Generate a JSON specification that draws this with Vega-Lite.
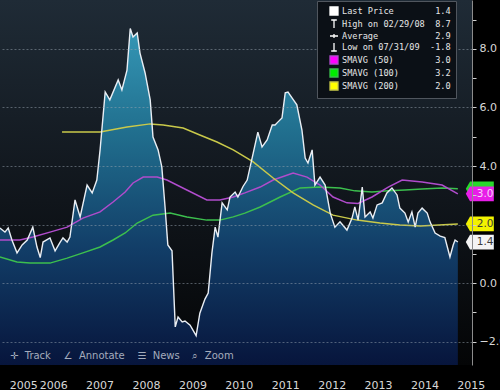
{
  "$schema": "https://vega.github.io/schema/vega-lite/v6.json",
  "width": 472,
  "height": 365,
  "autosize": "none",
  "padding": {"left": 0, "top": 0, "right": 28, "bottom": 25},
  "background": "#000000",
  "view": {
    "stroke": null,
    "fill": {"gradient": "linear", "x1": 0, "y1": 0, "x2": 0, "y2": 1,
      "stops": [{"offset": 0, "color": "#1f2b36"}, {"offset": 0.55, "color": "#10151b"}, {"offset": 1, "color": "#040506"}]}
  },
  "title": {
    "text": "✛\u00a0 Track\u00a0\u00a0\u00a0 ∠\u00a0 Annotate\u00a0\u00a0\u00a0 ☰\u00a0 News\u00a0\u00a0\u00a0 ⌕\u00a0 Zoom",
    "orient": "bottom", "anchor": "start", "frame": "group", "offset": -34, "baseline": "middle",
    "dx": 10, "color": "#a4acbc", "fontSize": 10, "fontWeight": "normal", "font": "DejaVu Sans", "zindex": 2
  },
  "datasets": {
    "price": [
      {"t": 2005.35, "v": 1.88}, {"t": 2005.46, "v": 1.74}, {"t": 2005.53, "v": 1.88}, {"t": 2005.61, "v": 1.47},
      {"t": 2005.72, "v": 1.03}, {"t": 2005.83, "v": 1.30}, {"t": 2005.94, "v": 1.47}, {"t": 2006.06, "v": 1.91},
      {"t": 2006.15, "v": 1.23}, {"t": 2006.22, "v": 0.87}, {"t": 2006.28, "v": 1.40}, {"t": 2006.43, "v": 1.54},
      {"t": 2006.54, "v": 1.10}, {"t": 2006.65, "v": 1.40}, {"t": 2006.71, "v": 1.54}, {"t": 2006.80, "v": 1.40},
      {"t": 2006.86, "v": 1.57}, {"t": 2006.97, "v": 2.84}, {"t": 2007.08, "v": 2.26}, {"t": 2007.23, "v": 3.35},
      {"t": 2007.34, "v": 3.08}, {"t": 2007.44, "v": 3.52}, {"t": 2007.51, "v": 4.55}, {"t": 2007.62, "v": 6.53},
      {"t": 2007.72, "v": 6.26}, {"t": 2007.90, "v": 6.94}, {"t": 2007.98, "v": 6.60}, {"t": 2008.09, "v": 7.28},
      {"t": 2008.16, "v": 8.70}, {"t": 2008.22, "v": 8.41}, {"t": 2008.31, "v": 8.55}, {"t": 2008.37, "v": 7.86},
      {"t": 2008.48, "v": 7.18}, {"t": 2008.59, "v": 6.26}, {"t": 2008.65, "v": 4.99}, {"t": 2008.76, "v": 4.55},
      {"t": 2008.84, "v": 3.97}, {"t": 2008.91, "v": 2.60}, {"t": 2008.97, "v": 1.30}, {"t": 2009.06, "v": 1.10},
      {"t": 2009.13, "v": -1.50}, {"t": 2009.19, "v": -1.16}, {"t": 2009.28, "v": -1.33}, {"t": 2009.34, "v": -1.30},
      {"t": 2009.45, "v": -1.44}, {"t": 2009.58, "v": -1.80}, {"t": 2009.66, "v": -1.03}, {"t": 2009.77, "v": -0.55},
      {"t": 2009.84, "v": -0.34}, {"t": 2009.92, "v": 1.03}, {"t": 2009.99, "v": 1.91}, {"t": 2010.05, "v": 1.57},
      {"t": 2010.14, "v": 2.74}, {"t": 2010.25, "v": 2.50}, {"t": 2010.31, "v": 2.94}, {"t": 2010.42, "v": 3.11},
      {"t": 2010.48, "v": 2.94}, {"t": 2010.59, "v": 3.30}, {"t": 2010.68, "v": 3.52}, {"t": 2010.81, "v": 4.44},
      {"t": 2010.91, "v": 5.16}, {"t": 2011.00, "v": 4.65}, {"t": 2011.11, "v": 4.89}, {"t": 2011.22, "v": 5.40},
      {"t": 2011.28, "v": 5.40}, {"t": 2011.34, "v": 5.50}, {"t": 2011.43, "v": 5.64}, {"t": 2011.50, "v": 6.50},
      {"t": 2011.56, "v": 6.53}, {"t": 2011.65, "v": 6.32}, {"t": 2011.75, "v": 6.09}, {"t": 2011.86, "v": 5.23},
      {"t": 2011.93, "v": 4.27}, {"t": 2011.99, "v": 4.10}, {"t": 2012.08, "v": 4.55}, {"t": 2012.14, "v": 3.35},
      {"t": 2012.25, "v": 3.62}, {"t": 2012.36, "v": 3.35}, {"t": 2012.47, "v": 2.39}, {"t": 2012.57, "v": 1.91},
      {"t": 2012.68, "v": 2.09}, {"t": 2012.83, "v": 1.81}, {"t": 2012.94, "v": 2.22}, {"t": 2013.00, "v": 2.60},
      {"t": 2013.07, "v": 2.15}, {"t": 2013.16, "v": 3.28}, {"t": 2013.22, "v": 2.26}, {"t": 2013.33, "v": 2.43},
      {"t": 2013.39, "v": 2.22}, {"t": 2013.48, "v": 2.67}, {"t": 2013.59, "v": 2.74}, {"t": 2013.69, "v": 3.08},
      {"t": 2013.80, "v": 3.25}, {"t": 2013.91, "v": 3.01}, {"t": 2013.97, "v": 2.56}, {"t": 2014.08, "v": 2.39},
      {"t": 2014.15, "v": 2.09}, {"t": 2014.23, "v": 2.43}, {"t": 2014.30, "v": 1.91}, {"t": 2014.36, "v": 2.39},
      {"t": 2014.45, "v": 2.56}, {"t": 2014.56, "v": 2.39}, {"t": 2014.62, "v": 2.09}, {"t": 2014.73, "v": 1.71},
      {"t": 2014.84, "v": 1.60}, {"t": 2014.94, "v": 1.55}, {"t": 2015.05, "v": 0.89}, {"t": 2015.12, "v": 1.30},
      {"t": 2015.16, "v": 1.47}, {"t": 2015.22, "v": 1.40}
    ],
    "ma": [
      {"s": "SMAVG (100)", "t": 2005.35, "v": 0.89}, {"s": "SMAVG (100)", "t": 2005.72, "v": 0.72}, {"s": "SMAVG (100)", "t": 2006.00, "v": 0.68},
      {"s": "SMAVG (100)", "t": 2006.43, "v": 0.68}, {"s": "SMAVG (100)", "t": 2006.80, "v": 0.85}, {"s": "SMAVG (100)", "t": 2007.14, "v": 1.03},
      {"s": "SMAVG (100)", "t": 2007.51, "v": 1.23}, {"s": "SMAVG (100)", "t": 2007.79, "v": 1.47}, {"s": "SMAVG (100)", "t": 2008.05, "v": 1.71},
      {"s": "SMAVG (100)", "t": 2008.31, "v": 2.05}, {"s": "SMAVG (100)", "t": 2008.65, "v": 2.32}, {"s": "SMAVG (100)", "t": 2009.02, "v": 2.39},
      {"s": "SMAVG (100)", "t": 2009.38, "v": 2.26}, {"s": "SMAVG (100)", "t": 2009.81, "v": 2.15}, {"s": "SMAVG (100)", "t": 2010.09, "v": 2.15},
      {"s": "SMAVG (100)", "t": 2010.38, "v": 2.26}, {"s": "SMAVG (100)", "t": 2010.63, "v": 2.39}, {"s": "SMAVG (100)", "t": 2010.96, "v": 2.60},
      {"s": "SMAVG (100)", "t": 2011.39, "v": 2.94}, {"s": "SMAVG (100)", "t": 2011.82, "v": 3.25}, {"s": "SMAVG (100)", "t": 2012.25, "v": 3.28},
      {"s": "SMAVG (100)", "t": 2012.68, "v": 3.25}, {"s": "SMAVG (100)", "t": 2013.00, "v": 3.15}, {"s": "SMAVG (100)", "t": 2013.37, "v": 3.11},
      {"s": "SMAVG (100)", "t": 2013.72, "v": 3.15}, {"s": "SMAVG (100)", "t": 2014.08, "v": 3.18}, {"s": "SMAVG (100)", "t": 2014.45, "v": 3.21},
      {"s": "SMAVG (100)", "t": 2014.88, "v": 3.25}, {"s": "SMAVG (100)", "t": 2015.22, "v": 3.22},
      {"s": "SMAVG (50)", "t": 2005.35, "v": 1.47}, {"s": "SMAVG (50)", "t": 2005.78, "v": 1.47}, {"s": "SMAVG (50)", "t": 2006.06, "v": 1.57},
      {"s": "SMAVG (50)", "t": 2006.43, "v": 1.74}, {"s": "SMAVG (50)", "t": 2006.80, "v": 1.91}, {"s": "SMAVG (50)", "t": 2007.14, "v": 2.22},
      {"s": "SMAVG (50)", "t": 2007.51, "v": 2.43}, {"s": "SMAVG (50)", "t": 2007.79, "v": 2.77}, {"s": "SMAVG (50)", "t": 2008.05, "v": 3.11},
      {"s": "SMAVG (50)", "t": 2008.22, "v": 3.42}, {"s": "SMAVG (50)", "t": 2008.44, "v": 3.62}, {"s": "SMAVG (50)", "t": 2008.74, "v": 3.62},
      {"s": "SMAVG (50)", "t": 2008.95, "v": 3.52}, {"s": "SMAVG (50)", "t": 2009.38, "v": 3.18}, {"s": "SMAVG (50)", "t": 2009.81, "v": 2.84},
      {"s": "SMAVG (50)", "t": 2010.09, "v": 2.84}, {"s": "SMAVG (50)", "t": 2010.38, "v": 2.94}, {"s": "SMAVG (50)", "t": 2010.63, "v": 3.08},
      {"s": "SMAVG (50)", "t": 2010.96, "v": 3.28}, {"s": "SMAVG (50)", "t": 2011.24, "v": 3.52}, {"s": "SMAVG (50)", "t": 2011.67, "v": 3.76},
      {"s": "SMAVG (50)", "t": 2011.97, "v": 3.62}, {"s": "SMAVG (50)", "t": 2012.25, "v": 3.35}, {"s": "SMAVG (50)", "t": 2012.53, "v": 2.94},
      {"s": "SMAVG (50)", "t": 2012.83, "v": 2.74}, {"s": "SMAVG (50)", "t": 2013.07, "v": 2.72}, {"s": "SMAVG (50)", "t": 2013.37, "v": 2.94},
      {"s": "SMAVG (50)", "t": 2013.72, "v": 3.28}, {"s": "SMAVG (50)", "t": 2014.02, "v": 3.52}, {"s": "SMAVG (50)", "t": 2014.45, "v": 3.45},
      {"s": "SMAVG (50)", "t": 2014.88, "v": 3.35}, {"s": "SMAVG (50)", "t": 2015.22, "v": 3.05},
      {"s": "SMAVG (200)", "t": 2006.69, "v": 5.16}, {"s": "SMAVG (200)", "t": 2007.51, "v": 5.16}, {"s": "SMAVG (200)", "t": 2008.09, "v": 5.33},
      {"s": "SMAVG (200)", "t": 2008.59, "v": 5.44}, {"s": "SMAVG (200)", "t": 2008.87, "v": 5.40}, {"s": "SMAVG (200)", "t": 2009.30, "v": 5.30},
      {"s": "SMAVG (200)", "t": 2009.66, "v": 5.06}, {"s": "SMAVG (200)", "t": 2010.03, "v": 4.82}, {"s": "SMAVG (200)", "t": 2010.38, "v": 4.55},
      {"s": "SMAVG (200)", "t": 2010.81, "v": 4.14}, {"s": "SMAVG (200)", "t": 2011.24, "v": 3.59}, {"s": "SMAVG (200)", "t": 2011.67, "v": 3.08},
      {"s": "SMAVG (200)", "t": 2012.10, "v": 2.67}, {"s": "SMAVG (200)", "t": 2012.53, "v": 2.32}, {"s": "SMAVG (200)", "t": 2013.05, "v": 2.15},
      {"s": "SMAVG (200)", "t": 2013.54, "v": 2.05}, {"s": "SMAVG (200)", "t": 2013.97, "v": 1.98}, {"s": "SMAVG (200)", "t": 2014.41, "v": 1.95},
      {"s": "SMAVG (200)", "t": 2015.22, "v": 2.02}
    ],
    "tags": [
      {"s": "SMAVG (100)", "t": 2015.22, "v": 3.22, "label": "3.2"},
      {"s": "SMAVG (50)", "t": 2015.22, "v": 3.05, "label": "3.0"},
      {"s": "SMAVG (200)", "t": 2015.22, "v": 2.02, "label": "2.0"},
      {"s": "Last Price", "t": 2015.22, "v": 1.4, "label": "1.4"}
    ],
    "years": [
      {"yr": 2006}, {"yr": 2007}, {"yr": 2008}, {"yr": 2009}, {"yr": 2010},
      {"yr": 2011}, {"yr": 2012}, {"yr": 2013}, {"yr": 2014}, {"yr": 2015}
    ]
  },
  "encoding": {
    "x": {"field": "t", "type": "quantitative",
      "scale": {"domain": [2005.353, 2015.525], "nice": false, "zero": false},
      "axis": {
        "title": null, "domain": false, "grid": false, "ticks": false,
        "values": [2005.353, 2006, 2007, 2008, 2009, 2010, 2011, 2012, 2013, 2014, 2015],
        "labelExpr": "datum.value < 2006 ? '2005' : '' + datum.value",
        "labelOffset": 23.2, "labelAlign": "center",
        "labelColor": "#d8d8d8", "labelFontSize": 11, "labelFont": "DejaVu Sans", "labelPadding": 14,
        "labelFlush": false, "labelOverlap": false, "labelBound": false
      }
    },
    "y": {"field": "v", "type": "quantitative",
      "scale": {"domain": [-2.803, 9.675], "nice": false, "zero": false},
      "axis": {
        "orient": "right", "title": null, "zindex": 1, "grid": true,
        "values": [-2, -1, 0, 1, 2, 3, 4, 5, 6, 7, 8, 9],
        "labelExpr": "datum.value % 2 == 0 && datum.value != 2 ? format(datum.value, '.1f') : ''",
        "tickSize": 4,
        "gridOpacity": {"condition": {"test": "datum.value % 2 == 0", "value": 0.5}, "value": 0},
        "gridColor": "#9aa6b2", "gridDash": [2, 2], "tickColor": "#d0d0d0", "domainColor": "#8c8c8c",
        "labelColor": "#d8d8d8", "labelFontSize": 11, "labelFont": "DejaVu Sans", "labelPadding": 3,
        "labelFlush": false, "labelOverlap": false
      }
    }
  },
  "layer": [
    {
      "data": {"name": "price"},
      "mark": {"type": "area", "color": {"gradient": "linear", "x1": 0, "y1": 0, "x2": 0, "y2": 1,
        "stops": [{"offset": 0, "color": "#3597b6"}, {"offset": 0.3, "color": "#21708f"}, {"offset": 0.65, "color": "#123e68"}, {"offset": 1, "color": "#07153c"}]}},
      "encoding": {
        "y2": {"datum": -2.803}
      }
    },
    {
      "data": {"name": "years"},
      "mark": {"type": "rule", "color": "#9aa6b2", "opacity": 0.5, "strokeDash": [2, 2], "strokeWidth": 1},
      "encoding": {
        "x": {"field": "yr", "type": "quantitative"},
        "y": {"datum": 9.675, "type": "quantitative"},
        "y2": {"datum": -2.803}
      }
    },
    {
      "data": {"name": "years"},
      "mark": {"type": "rule", "color": "#8a8a8a", "strokeWidth": 1},
      "encoding": {
        "x": {"field": "yr", "type": "quantitative"},
        "y": {"datum": -2.803, "type": "quantitative"},
        "y2": {"datum": -3.66}
      }
    },
    {
      "data": {"name": "ma"},
      "mark": {"type": "line", "strokeWidth": 1.5},
      "encoding": {
        "color": {"field": "s", "type": "nominal",
          "scale": {"domain": ["Last Price", "High on 02/29/08", "Average", "Low on 07/31/09", "SMAVG (50)", "SMAVG (100)", "SMAVG (200)"],
            "range": ["#ffffff", "#ffffff", "#ffffff", "#ffffff", "#b04ccc", "#3cbf4e", "#c9c94a"]},
          "legend": {
            "orient": "none", "legendX": 317, "legendY": 1, "direction": "vertical",
            "title": null, "padding": 5, "fillColor": "#0b1016", "strokeColor": "#50565e", "cornerRadius": 0,
            "symbolOffset": 7, "symbolSize": 64, "symbolStrokeWidth": 1.3, "symbolType": "square",
            "labelFont": "DejaVu Sans Mono", "labelFontSize": 8.6, "labelColor": "#e6e6e6", "labelOffset": 3, "labelLimit": 300,
            "rowPadding": -1, "zindex": 2,
            "labelExpr": "datum.label == 'Last Price' ? 'Last Price\u00a0\u00a0\u00a0\u00a0\u00a0\u00a0\u00a0\u00a01.4' : datum.label == 'High on 02/29/08' ? 'High on 02/29/08\u00a0\u00a08.7' : datum.label == 'Average' ? 'Average\u00a0\u00a0\u00a0\u00a0\u00a0\u00a0\u00a0\u00a0\u00a0\u00a0\u00a02.9' : datum.label == 'Low on 07/31/09' ? 'Low on 07/31/09\u00a0\u00a0-1.8' : datum.label == 'SMAVG (50)' ? 'SMAVG (50)\u00a0\u00a0\u00a0\u00a0\u00a0\u00a0\u00a0\u00a03.0' : datum.label == 'SMAVG (100)' ? 'SMAVG (100)\u00a0\u00a0\u00a0\u00a0\u00a0\u00a0\u00a03.2' : 'SMAVG (200)\u00a0\u00a0\u00a0\u00a0\u00a0\u00a0\u00a02.0'",
            "encode": {
              "symbols": {
                "update": {
                  "shape": {"signal": "datum.value == 'High on 02/29/08' ? 'M-0.7,-1L0.7,-1M0,-1L0,1' : datum.value == 'Average' ? 'M-1,0L1,0M0,-0.5L0,0.5' : datum.value == 'Low on 07/31/09' ? 'M-0.7,1L0.7,1M0,-1L0,1' : 'square'"},
                  "fill": {"signal": "datum.value == 'Last Price' ? '#ffffff' : datum.value == 'SMAVG (50)' ? '#ff00ff' : datum.value == 'SMAVG (100)' ? '#00ee00' : datum.value == 'SMAVG (200)' ? '#ffff00' : 'transparent'"},
                  "stroke": {"signal": "indexof(['High on 02/29/08','Average','Low on 07/31/09'], datum.value) >= 0 ? '#d8d8d8' : 'transparent'"},
                  "strokeWidth": {"value": 1.3},
                  "opacity": {"value": 1}
                }
              }
            }
          }
        }
      }
    },
    {
      "data": {"name": "price"},
      "mark": {"type": "line", "color": "#e9eef4", "strokeWidth": 1.4}
    },
    {
      "data": {"name": "tags"},
      "mark": {"type": "point", "filled": true, "opacity": 1, "size": 196, "strokeWidth": 0,
        "shape": "M1.14,0L1.74,-1.05L5.14,-1.05L5.14,1.05L1.74,1.05Z"},
      "encoding": {
        "fill": {"field": "s", "type": "nominal", "legend": null,
          "scale": {"domain": ["Last Price", "SMAVG (50)", "SMAVG (100)", "SMAVG (200)"], "range": ["#f4f4f4", "#e81ee8", "#28d82c", "#f2f200"]}}
      }
    },
    {
      "data": {"name": "tags"},
      "transform": [{"filter": "datum.s != 'SMAVG (100)'"}],
      "mark": {"type": "text", "align": "left", "baseline": "middle", "dx": 19, "fontSize": 10.5, "font": "DejaVu Sans"},
      "encoding": {
        "text": {"field": "label"},
        "color": {"condition": {"test": "datum.s == 'SMAVG (50)'", "value": "#f8d4f8"}, "value": "#3a3a3a"}
      }
    }
  ]
}
